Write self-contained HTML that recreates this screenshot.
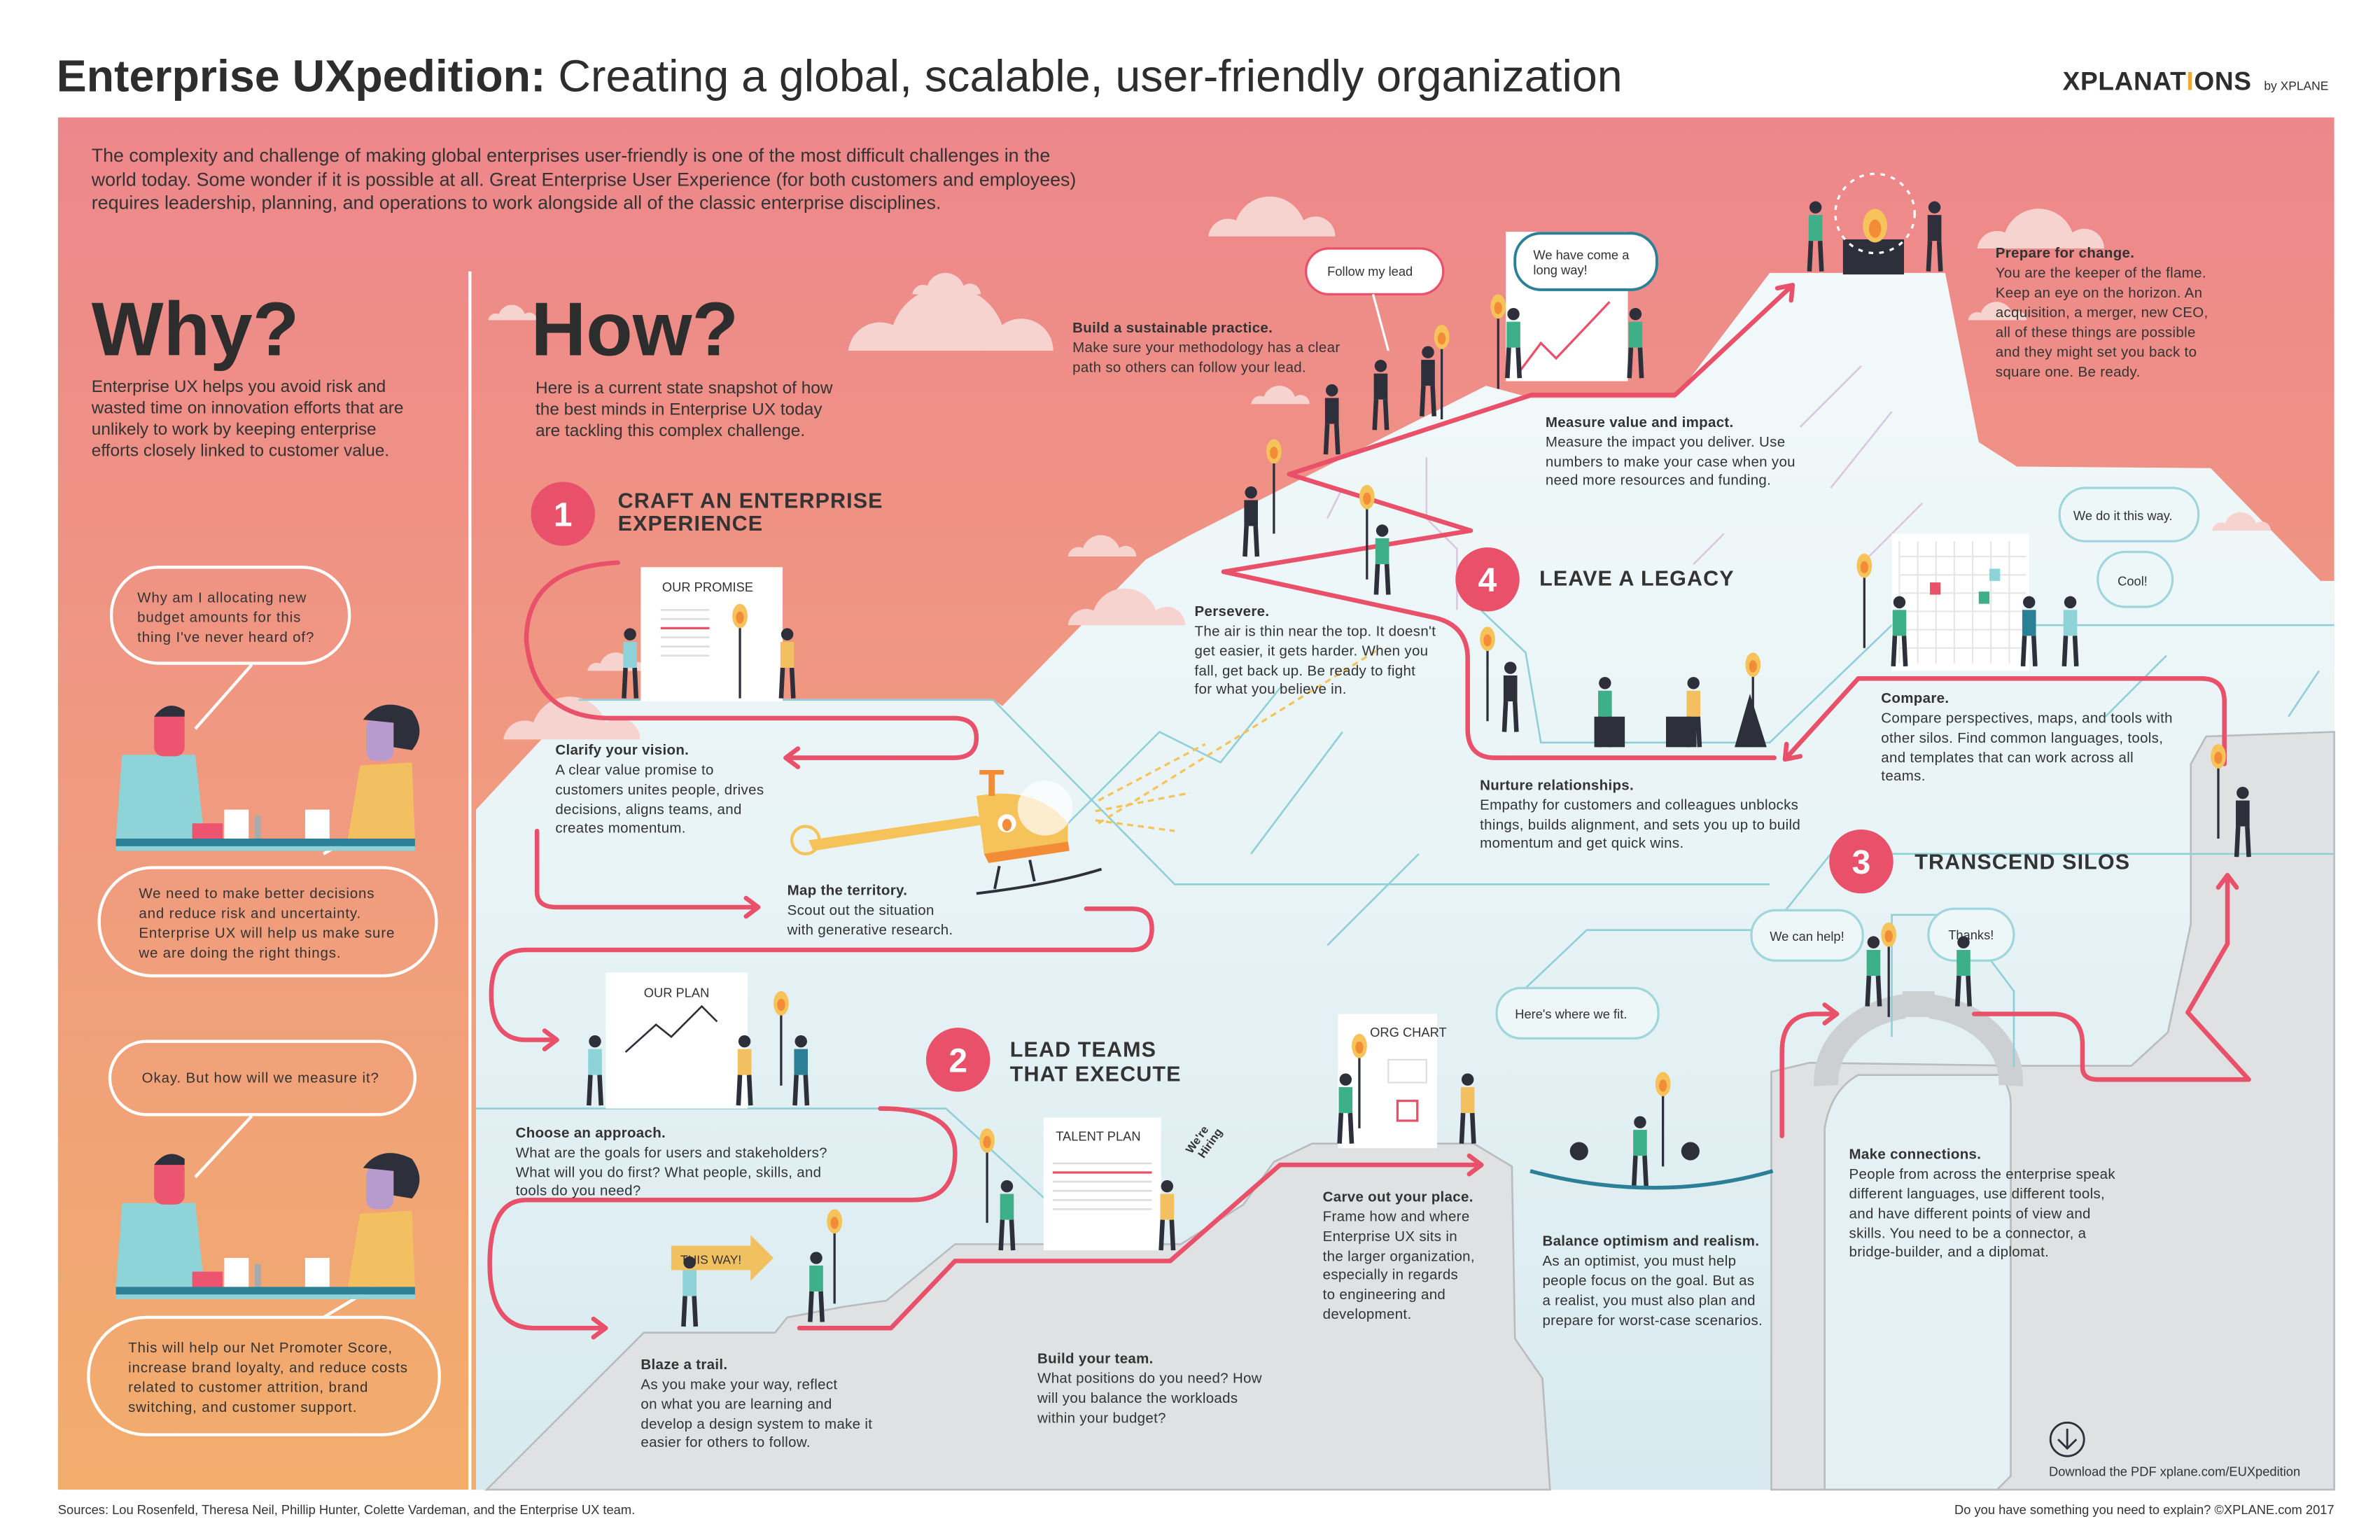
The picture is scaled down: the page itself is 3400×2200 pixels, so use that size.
<!DOCTYPE html>
<html><head><meta charset="utf-8"><style>
html,body{margin:0;padding:0;background:#fff;}
svg{display:block;}
text{font-family:"Liberation Sans",sans-serif;fill:#333;}
.b{font-size:9.4px;letter-spacing:0.15px;}
.h{font-weight:bold;}
.sec{font-size:14px;font-weight:bold;letter-spacing:0.5px;fill:#333;}
.q{font-size:9.4px;letter-spacing:0.4px;}
.sm{font-size:8.4px;}
</style></head><body>
<svg width="3400" height="2200" viewBox="0 0 1560 1010" preserveAspectRatio="none" xmlns="http://www.w3.org/2000/svg">
<defs>
<linearGradient id="bg" x1="0" y1="0" x2="0" y2="1">
<stop offset="0" stop-color="#ee878c"/><stop offset="0.55" stop-color="#f09c7e"/><stop offset="1" stop-color="#f2ad6c"/>
</linearGradient>
<linearGradient id="mt" x1="0" y1="0" x2="0" y2="1">
<stop offset="0" stop-color="#f2f9fa"/><stop offset="0.45" stop-color="#e9f4f6"/><stop offset="1" stop-color="#d8eaef"/>
</linearGradient>
<g id="man"><circle cx="0" cy="-42" r="4" fill="#2d2f3a"/><rect x="-4.5" y="-37" width="9" height="17"/><path d="M-3,-20 L-4,0 M3,-20 L4,0" stroke="#2d2f3a" stroke-width="3" fill="none"/></g>
<g id="torch"><line x1="0" y1="0" x2="0" y2="50" stroke="#2d2f3a" stroke-width="1.5"/><ellipse cx="0" cy="-4" rx="5" ry="8" fill="#f6c35b"/><ellipse cx="0" cy="-3" rx="2.6" ry="4" fill="#f28c37"/></g>
<g id="cloud"><path d="M0,0 a10,10 0 0 1 14,-8 a18,18 0 0 1 34,0 a10,10 0 0 1 16,8 Z" fill="#f7d3d0"/></g>
</defs>
<rect width="1560" height="1010" fill="#fff"/>
<text x="37" y="60" style="font-size:29.6px;fill:#2d2d2d"><tspan font-weight="bold">Enterprise UXpedition:</tspan> Creating a global, scalable, user-friendly organization</text>
<text x="1352" y="59" style="font-size:17px;font-weight:bold;fill:#2d2d2d;letter-spacing:0.3px">XPLANAT<tspan fill="#f2a93b">I</tspan>ONS</text>
<text x="1484" y="59" style="font-size:8px;fill:#2d2d2d">by XPLANE</text>
<rect x="38" y="77" width="1492" height="900" fill="url(#bg)"/>
<path d="M312,531 L379,459 L651,459 L657,463 L751,367 L780,351 L974,253 L1004,261 L1098,261 L1160,179 L1275,179 L1297,290 L1322,306 L1449,307 L1521,381 L1530,381 L1530,977 L312,977 Z" fill="url(#mt)"/>
<use href="#cloud" transform="translate(320,210) scale(0.5)"/>
<use href="#cloud" transform="translate(556,230) scale(2.1)"/>
<use href="#cloud" transform="translate(598,193) scale(0.7)"/>
<use href="#cloud" transform="translate(700,410) scale(1.2)"/>
<use href="#cloud" transform="translate(700,365) scale(0.7)"/>
<use href="#cloud" transform="translate(792,155) scale(1.3)"/>
<use href="#cloud" transform="translate(820,265) scale(0.6)"/>
<use href="#cloud" transform="translate(1296,163) scale(1.3)"/>
<use href="#cloud" transform="translate(1290,210) scale(0.6)"/>
<use href="#cloud" transform="translate(1450,348) scale(0.6)"/>
<use href="#cloud" transform="translate(330,485) scale(1.4)"/>
<use href="#cloud" transform="translate(385,440) scale(0.6)"/>
<use href="#cloud" transform="translate(655,555) scale(0.4)"/>
<path d="M319,977 L422,874 L508,874 L516,864 L553,857 L581,853 L626,816 L774,816 L815,790 L835,762 L860,750 L966,750 L991,765 L993,878 L1011,904 L1016,977 Z" fill="#dfe1e2" stroke="#b9bcbf" stroke-width="1.2"/>
<path d="M1161,977 L1161,703 L1186,697 L1327,699 L1397,699 L1421,677 L1436,606 L1436,501 L1446,483 L1530,480 L1530,977 Z" fill="#dfe1e2" stroke="#b9bcbf" stroke-width="1.2"/>
<path d="M1196,977 L1196,740 Q1200,715 1218,705 L1310,705 Q1318,712 1318,725 L1318,968 L1309,977 Z" fill="#e4f0f3" stroke="#b9bcbf" stroke-width="1.2"/>
<path d="M1197,712 A62,50 0 0 1 1248,660 M1265,660 A62,50 0 0 1 1318,712" fill="none" stroke="#cdd0d2" stroke-width="16"/>
<rect x="1247" y="650" width="21" height="17" fill="#cdd0d2"/>
<g stroke="#8fd0d8" stroke-width="1.2" fill="none">
<path d="M379,459 L651,459 L770,580 L1160,580"/>
<path d="M312,727 L620,727 L700,800"/>
<path d="M960,390 L1000,428 L1010,487 L1160,487 L1240,410 L1530,410"/>
<path d="M1000,648 L1040,610 L1160,610 L1200,560 L1530,560"/>
<path d="M700,540 L760,480 L800,500 L840,450 M820,560 L880,480 M870,620 L930,560 M1380,470 L1420,430 M1500,470 L1520,440"/>
<path d="M1240,680 L1240,600 L1305,600 L1305,630 L1320,650 L1320,700"/>
</g>
<g stroke="#d9c8e0" stroke-width="1.2" fill="none">
<path d="M870,340 L880,320 M1180,280 L1220,240 M1200,320 L1240,270 M1220,370 L1260,330 M1110,370 L1130,350 M935,300 L935,340 L955,360 L955,400"/>
</g>
<line x1="308" y1="178" x2="308" y2="977" stroke="#fff" stroke-width="2"/>
<g style="font-size:12.3px">
<text x="60" y="106">The complexity and challenge of making global enterprises user-friendly is one of the most difficult challenges in the</text>
<text x="60" y="122">world today. Some wonder if it is possible at all. Great Enterprise User Experience (for both customers and employees)</text>
<text x="60" y="137">requires leadership, planning, and operations to work alongside all of the classic enterprise disciplines.</text>
</g>
<text x="60" y="233" style="font-size:50px;font-weight:bold;fill:#2d2d2d">Why?</text>
<text x="348" y="233" style="font-size:50px;font-weight:bold;fill:#2d2d2d">How?</text>
<g style="font-size:11.2px">
<text x="60" y="257">Enterprise UX helps you avoid risk and</text>
<text x="60" y="271">wasted time on innovation efforts that are</text>
<text x="60" y="285">unlikely to work by keeping enterprise</text>
<text x="60" y="299">efforts closely linked to customer value.</text>
<text x="351" y="258">Here is a current state snapshot of how</text>
<text x="351" y="272">the best minds in Enterprise UX today</text>
<text x="351" y="286">are tackling this complex challenge.</text>
</g>
<g fill="none" stroke="#fff" stroke-width="2">
<rect x="73" y="372" width="156" height="63" rx="31"/>
<line x1="165" y1="436" x2="128" y2="478"/>
<rect x="65" y="569" width="221" height="71" rx="35"/>
<line x1="212" y1="560" x2="252" y2="538"/>
<rect x="72" y="683" width="200" height="48" rx="24"/>
<line x1="165" y1="732" x2="128" y2="772"/>
<rect x="58" y="864" width="230" height="77" rx="38"/>
<line x1="212" y1="864" x2="252" y2="840"/>
</g>
<g class="q">
<text x="90" y="395">Why am I allocating new</text><text x="90" y="408">budget amounts for this</text><text x="90" y="421">thing I've never heard of?</text>
<text x="91" y="589">We need to make better decisions</text><text x="91" y="602">and reduce risk and uncertainty.</text><text x="91" y="615">Enterprise UX will help us make sure</text><text x="91" y="628">we are doing the right things.</text>
<text x="93" y="710">Okay. But how will we measure it?</text>
<text x="84" y="887">This will help our Net Promoter Score,</text><text x="84" y="900">increase brand loyalty, and reduce costs</text><text x="84" y="913">related to customer attrition, brand</text><text x="84" y="926">switching, and customer support.</text>
</g>
<g id="scene">
<path d="M80,495 L128,495 L134,550 L76,550 Z" fill="#8dd3d8"/>
<rect x="101" y="466" width="20" height="30" rx="6" fill="#ec5470"/>
<path d="M101,470 Q110,458 121,466 L121,470 Z" fill="#2d2f3a"/>
<rect x="126" y="540" width="20" height="10" fill="#ec5470"/>
<rect x="167" y="535" width="4" height="15" fill="#aaa"/>
<rect x="147" y="531" width="16" height="19" fill="#fff"/>
<rect x="200" y="531" width="16" height="19" fill="#fff"/>
<path d="M236,502 L270,500 L272,550 L228,550 Z" fill="#f3c061"/>
<rect x="240" y="471" width="18" height="28" rx="6" fill="#b79bcf"/>
<path d="M238,472 Q250,456 270,466 Q280,480 270,492 L258,490 L258,474 Z" fill="#2d2f3a"/>
<rect x="76" y="550" width="196" height="5" fill="#2b7f96"/>
<rect x="76" y="555" width="196" height="3" fill="#8dd3d8"/>
</g>
<use href="#scene" y="294"/>
<g fill="none" stroke="#e9506a" stroke-width="3" stroke-linecap="round" stroke-linejoin="round">
<path d="M405,369 Q345,372 345,420 Q350,471 400,471 L625,471 Q640,471 640,484 Q640,497 625,497 L515,497 M523,491 L515,497 L523,503"/>
<path d="M352,545 L352,585 Q352,595 365,595 L497,595 M489,589 L497,595 L489,601"/>
<path d="M712,596 L742,596 Q755,596 755,609 Q755,623 742,623 L345,623 Q322,623 322,652 Q322,682 345,682 L365,682 M357,676 L365,682 L357,688"/>
<path d="M577,727 Q626,727 626,756 Q626,787 598,787 L345,787 Q321,787 321,829 Q321,871 350,871 L397,871 M389,865 L397,871 L389,877"/>
<path d="M524,871 L584,871 L626,827 L767,827 L839,764 L971,764 M963,758 L971,764 L963,770"/>
<path d="M1168,745 L1168,690 Q1168,665 1190,665 L1204,665 M1196,659 L1204,665 L1196,671"/>
<path d="M1294,665 L1345,665 Q1365,665 1365,685 L1365,700 Q1365,708 1375,708 L1474,708 L1434,664 L1460,619 L1460,574 M1454,582 L1460,574 L1466,582"/>
<path d="M1458,501 L1458,460 Q1458,445 1443,445 L1218,445 L1170,498 M1171,488 L1170,498 L1180,496"/>
<path d="M1163,497 L980,497 Q962,497 962,478 L962,432 Q962,410 940,405 L802,375 L964,348 L845,311 L1004,259 L1098,259 L1175,187 M1165,189 L1175,187 L1174,197"/>
</g>
<g fill="#e9506a"><circle cx="369" cy="337" r="21"/><circle cx="628" cy="695" r="21"/><circle cx="1220" cy="565" r="21"/><circle cx="975" cy="380" r="21"/></g>
<g style="font-size:22px;font-weight:bold" text-anchor="middle">
<text x="369" y="345" style="fill:#fff">1</text><text x="628" y="703" style="fill:#fff">2</text><text x="1220" y="573" style="fill:#fff">3</text><text x="975" y="388" style="fill:#fff">4</text>
</g>
<text class="sec" x="405" y="333">CRAFT AN ENTERPRISE</text><text class="sec" x="405" y="348">EXPERIENCE</text>
<text class="sec" x="662" y="693">LEAD TEAMS</text><text class="sec" x="662" y="709">THAT EXECUTE</text>
<text class="sec" x="1255" y="570">TRANSCEND SILOS</text>
<text class="sec" x="1009" y="384">LEAVE A LEGACY</text>
<g fill="#fff">
<rect x="420" y="372" width="93" height="88"/><rect x="397" y="638" width="93" height="89"/>
<rect x="684" y="733" width="77" height="87"/><rect x="877" y="665" width="65" height="88"/>
<rect x="987" y="152" width="80" height="98"/><rect x="1240" y="350" width="90" height="90"/>
</g>
<g class="sm"><text x="434" y="388">OUR PROMISE</text><text x="422" y="654">OUR PLAN</text><text x="692" y="748">TALENT PLAN</text><text x="898" y="680">ORG CHART</text></g>
<g stroke="#ddd" stroke-width="1.2"><path d="M433,400 H465 M433,406 H465 M433,418 H465 M433,424 H465 M433,430 H465 M690,763 H755 M690,775 H755 M690,781 H755 M690,787 H755 M690,793 H755"/></g>
<path d="M433,412 H465 M690,769 H755" stroke="#e9506a" stroke-width="1.5"/>
<path d="M410,690 L430,672 L440,680 L460,660 L470,670" stroke="#2d2f3a" stroke-width="1.2" fill="none"/>
<path d="M995,245 L1010,225 L1020,235 L1055,198" stroke="#e9506a" stroke-width="1.5" fill="none"/>
<g stroke="#e6e6e6" stroke-width="1" fill="none"><path d="M1245,355 V435 M1257,355 V435 M1269,355 V435 M1281,355 V435 M1293,355 V435 M1305,355 V435 M1317,355 V435 M1245,365 H1328 M1245,377 H1328 M1245,389 H1328 M1245,401 H1328 M1245,413 H1328 M1245,425 H1328"/></g>
<rect x="1265" y="382" width="7" height="8" fill="#e9506a"/><rect x="1297" y="388" width="7" height="8" fill="#3db08a"/><rect x="1304" y="373" width="7" height="8" fill="#8dd3d8"/>
<rect x="910" y="695" width="25" height="15" fill="none" stroke="#ddd"/><rect x="916" y="722" width="13" height="13" fill="none" stroke="#e9506a" stroke-width="1.5"/>
<rect x="856" y="163" width="90" height="30" rx="15" fill="#fff" stroke="#e9506a" stroke-width="1.5"/>
<line x1="900" y1="193" x2="910" y2="230" stroke="#fff" stroke-width="1.5"/>
<text x="870" y="181" class="sm">Follow my lead</text>
<rect x="993" y="153" width="93" height="37" rx="17" fill="#fff" stroke="#2b7f96" stroke-width="1.8"/>
<text x="1005" y="170" class="sm">We have come a</text><text x="1005" y="180" class="sm">long way!</text>
<g fill="#eef7f8" stroke="#9fd6dc" stroke-width="1.5">
<rect x="1350" y="320" width="91" height="35" rx="17"/><rect x="1375" y="362" width="49" height="36" rx="18"/>
<rect x="1148" y="597" width="73" height="33" rx="16"/><rect x="1264" y="596" width="56" height="34" rx="17"/>
<rect x="981" y="648" width="106" height="33" rx="16"/>
</g>
<g class="sm"><text x="1359" y="341">We do it this way.</text><text x="1388" y="384">Cool!</text><text x="1160" y="617">We can help!</text><text x="1277" y="616">Thanks!</text><text x="993" y="668">Here's where we fit.</text></g>
<path d="M440,817 L492,817 L492,810 L507,825 L492,840 L492,833 L440,833 Z" fill="#f2c15f"/>
<text x="446" y="829" style="font-size:8px">THIS WAY!</text>
<text x="781" y="757" transform="rotate(-55 781 757)" style="font-size:7.5px;font-weight:bold">We're</text>
<text x="789" y="760" transform="rotate(-55 789 760)" style="font-size:7.5px;font-weight:bold">Hiring</text>
<rect x="1208" y="157" width="40" height="23" fill="#2d2f3a"/>
<circle cx="1229" cy="140" r="26" fill="none" stroke="#fff" stroke-width="1.5" stroke-dasharray="3 4"/>
<ellipse cx="1229" cy="148" rx="8" ry="11" fill="#f6c35b"/><ellipse cx="1229" cy="150" rx="4" ry="6" fill="#f28c37"/>
<g>
<path d="M530,551 L640,535 L650,540 L533,558 Z" fill="#f6c35b"/>
<circle cx="528" cy="551" r="9" fill="none" stroke="#f6c35b" stroke-width="2"/>
<path d="M640,522 Q680,515 700,540 L700,555 Q665,565 645,560 Z" fill="#f6c35b"/>
<path d="M645,560 L700,552 L701,558 L648,566 Z" fill="#f28c37"/>
<circle cx="685" cy="530" r="18" fill="#fff" opacity="0.7"/>
<circle cx="660" cy="540" r="6" fill="#fff"/><ellipse cx="660" cy="541" rx="3" ry="4" fill="#f28c37"/>
<rect x="648" y="508" width="4" height="14" fill="#f28c37"/><rect x="642" y="505" width="16" height="3" fill="#f28c37"/>
<path d="M655,568 L652,583 M675,564 L678,578 M640,586 Q690,580 722,570" stroke="#2d2f3a" stroke-width="1.8" fill="none"/>
<path d="M720,525 L790,488 M718,532 L780,520 M718,538 L770,545" stroke="#f6c35b" stroke-width="1.5" stroke-dasharray="4 3"/>
<path d="M720,540 L905,425" stroke="#f6c35b" stroke-width="1.5" stroke-dasharray="4 3"/>
</g>
<use href="#torch" x="485" y="408"/><use href="#torch" x="512" y="662"/><use href="#torch" x="647" y="752"/><use href="#torch" x="547" y="805"/>
<use href="#torch" x="891" y="690"/><use href="#torch" x="1090" y="715"/><use href="#torch" x="1238" y="617"/><use href="#torch" x="1454" y="500"/>
<use href="#torch" x="1222" y="375"/><use href="#torch" x="1149" y="440"/><use href="#torch" x="975" y="423"/><use href="#torch" x="896" y="330"/>
<use href="#torch" x="835" y="300"/><use href="#torch" x="945" y="225"/><use href="#torch" x="982" y="205"/>
<use href="#man" x="413" y="458" fill="#8dd3d8"/><use href="#man" x="516" y="458" fill="#f3c061"/>
<use href="#man" x="390" y="725" fill="#8dd3d8"/><use href="#man" x="488" y="725" fill="#f3c061"/><use href="#man" x="525" y="725" fill="#2b7f96"/>
<use href="#man" x="660" y="820" fill="#3db08a"/><use href="#man" x="765" y="820" fill="#f3c061"/>
<use href="#man" x="452" y="870" fill="#8dd3d8"/><use href="#man" x="535" y="867" fill="#3db08a"/>
<use href="#man" x="882" y="750" fill="#3db08a"/><use href="#man" x="962" y="750" fill="#f3c061"/>
<use href="#man" x="1075" y="778" fill="#3db08a"/>
<use href="#man" x="1228" y="660" fill="#3db08a"/><use href="#man" x="1287" y="660" fill="#3db08a"/>
<use href="#man" x="1470" y="562" fill="#2d2f3a"/>
<use href="#man" x="1245" y="437" fill="#3db08a"/><use href="#man" x="1330" y="437" fill="#2b7f96"/><use href="#man" x="1357" y="437" fill="#8dd3d8"/>
<use href="#man" x="1052" y="490" fill="#3db08a"/><use href="#man" x="1110" y="490" fill="#f3c061"/>
<use href="#man" x="990" y="480" fill="#2d2f3a"/><use href="#man" x="906" y="390" fill="#3db08a"/><use href="#man" x="820" y="365" fill="#2d2f3a"/>
<use href="#man" x="873" y="298" fill="#2d2f3a"/><use href="#man" x="905" y="282" fill="#2d2f3a"/><use href="#man" x="936" y="273" fill="#2d2f3a"/>
<use href="#man" x="992" y="248" fill="#3db08a"/><use href="#man" x="1072" y="248" fill="#3db08a"/>
<use href="#man" x="1190" y="178" fill="#3db08a"/><use href="#man" x="1268" y="178" fill="#2d2f3a"/>
<path d="M1137,490 L1147,455 L1158,490 Z" fill="#2d2f3a"/><rect x="1045" y="470" width="20" height="20" fill="#2d2f3a"/><rect x="1092" y="470" width="20" height="20" fill="#2d2f3a"/>
<path d="M1003,768 Q1085,790 1162,768" stroke="#2b7f96" stroke-width="2.5" fill="none"/>
<circle cx="1035" cy="755" r="6" fill="#2d2f3a"/><circle cx="1108" cy="755" r="6" fill="#2d2f3a"/>
<circle cx="1355" cy="944" r="11" fill="none" stroke="#2d2f3a" stroke-width="1.3"/>
<path d="M1355,937 V950 M1349,944 L1355,950 L1361,944" stroke="#2d2f3a" stroke-width="1.3" fill="none"/>
<text x="1343" y="968" class="sm">Download the PDF xplane.com/EUXpedition</text>
<g class="b">
<text x="364" y="495" class="h">Clarify your vision.</text><text x="364" y="508">A clear value promise to</text><text x="364" y="521">customers unites people, drives</text><text x="364" y="534">decisions, aligns teams, and</text><text x="364" y="546">creates momentum.</text>
<text x="516" y="587" class="h">Map the territory.</text><text x="516" y="600">Scout out the situation</text><text x="516" y="613">with generative research.</text>
<text x="338" y="746" class="h">Choose an approach.</text><text x="338" y="759">What are the goals for users and stakeholders?</text><text x="338" y="772">What will you do first? What people, skills, and</text><text x="338" y="784">tools do you need?</text>
<text x="420" y="898" class="h">Blaze a trail.</text><text x="420" y="911">As you make your way, reflect</text><text x="420" y="924">on what you are learning and</text><text x="420" y="937">develop a design system to make it</text><text x="420" y="949">easier for others to follow.</text>
<text x="680" y="894" class="h">Build your team.</text><text x="680" y="907">What positions do you need? How</text><text x="680" y="920">will you balance the workloads</text><text x="680" y="933">within your budget?</text>
<text x="867" y="788" class="h">Carve out your place.</text><text x="867" y="801">Frame how and where</text><text x="867" y="814">Enterprise UX sits in</text><text x="867" y="827">the larger organization,</text><text x="867" y="839">especially in regards</text><text x="867" y="852">to engineering and</text><text x="867" y="865">development.</text>
<text x="1011" y="817" class="h">Balance optimism and realism.</text><text x="1011" y="830">As an optimist, you must help</text><text x="1011" y="843">people focus on the goal. But as</text><text x="1011" y="856">a realist, you must also plan and</text><text x="1011" y="869">prepare for worst-case scenarios.</text>
<text x="1212" y="760" class="h">Make connections.</text><text x="1212" y="773">People from across the enterprise speak</text><text x="1212" y="786">different languages, use different tools,</text><text x="1212" y="799">and have different points of view and</text><text x="1212" y="812">skills. You need to be a connector, a</text><text x="1212" y="824">bridge-builder, and a diplomat.</text>
<text x="1233" y="461" class="h">Compare.</text><text x="1233" y="474">Compare perspectives, maps, and tools with</text><text x="1233" y="487">other silos. Find common languages, tools,</text><text x="1233" y="500">and templates that can work across all</text><text x="1233" y="512">teams.</text>
<text x="970" y="518" class="h">Nurture relationships.</text><text x="970" y="531">Empathy for customers and colleagues unblocks</text><text x="970" y="544">things, builds alignment, and sets you up to build</text><text x="970" y="556">momentum and get quick wins.</text>
<text x="783" y="404" class="h">Persevere.</text><text x="783" y="417">The air is thin near the top. It doesn't</text><text x="783" y="430">get easier, it gets harder. When you</text><text x="783" y="443">fall, get back up. Be ready to fight</text><text x="783" y="455">for what you believe in.</text>
<text x="1013" y="280" class="h">Measure value and impact.</text><text x="1013" y="293">Measure the impact you deliver. Use</text><text x="1013" y="306">numbers to make your case when you</text><text x="1013" y="318">need more resources and funding.</text>
<text x="703" y="218" class="h">Build a sustainable practice.</text><text x="703" y="231">Make sure your methodology has a clear</text><text x="703" y="244">path so others can follow your lead.</text>
<text x="1308" y="169" class="h">Prepare for change.</text><text x="1308" y="182">You are the keeper of the flame.</text><text x="1308" y="195">Keep an eye on the horizon. An</text><text x="1308" y="208">acquisition, a merger, new CEO,</text><text x="1308" y="221">all of these things are possible</text><text x="1308" y="234">and they might set you back to</text><text x="1308" y="247">square one. Be ready.</text>
</g>
<text x="38" y="993" class="sm">Sources: Lou Rosenfeld, Theresa Neil, Phillip Hunter, Colette Vardeman, and the Enterprise UX team.</text>
<text x="1530" y="993" class="sm" text-anchor="end">Do you have something you need to explain? ©XPLANE.com 2017</text>
</svg>
</body></html>
